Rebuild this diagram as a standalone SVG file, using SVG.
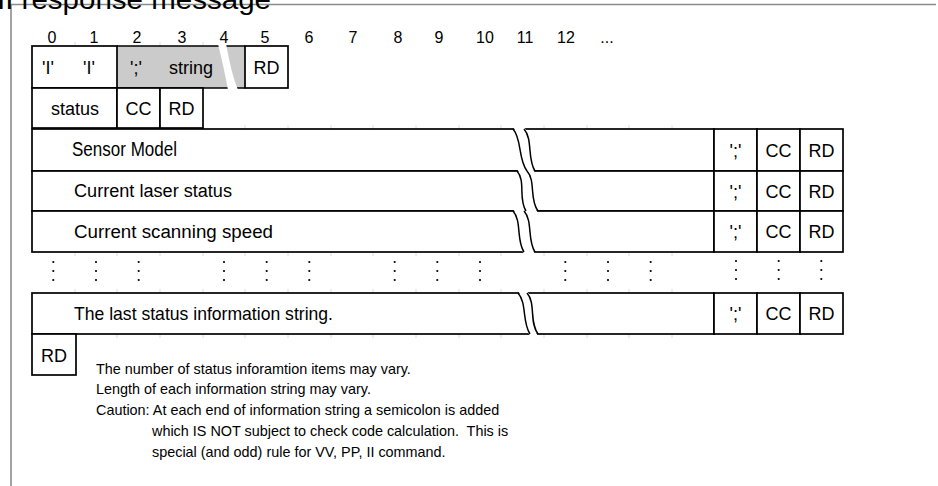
<svg xmlns="http://www.w3.org/2000/svg" width="938" height="486" viewBox="0 0 938 486">
<style>
text{font-family:"Liberation Sans",Arial,sans-serif;fill:#000}
.num{font-size:16px;text-anchor:middle}
.c{font-size:18px;text-anchor:middle}
.lbl{font-size:18px}
.note{font-size:14.4px}
.box{fill:#fff;stroke:#000;stroke-width:1.7}
.ln{stroke:#000;stroke-width:1.7;fill:none}
.tick{stroke:#dcdcdc;stroke-width:1}
.gap{fill:#fff;stroke:none}
.brk{fill:none;stroke:#000;stroke-width:1.5}
.dot{fill:#000}
</style>
<defs>
<g id="vdots"><circle cx="0" cy="0" r="1.1"/><circle cx="0" cy="9" r="1.1"/><circle cx="0" cy="18" r="1.1"/></g>
</defs>
<rect width="938" height="486" fill="#fff"/>
<g id="frame">
<path d="M11 4.5H936M11 4.5V486" stroke="#8c8c8c" stroke-width="1.6" fill="none"/>
<text x="-3" y="9" style="font-size:28px" textLength="274" lengthAdjust="spacingAndGlyphs">II response message</text>
</g>
<g id="colnums">
<text class="num" x="52" y="42.5">0</text><text class="num" x="94" y="42.5">1</text>
<text class="num" x="137" y="42.5">2</text><text class="num" x="182" y="42.5">3</text>
<text class="num" x="224" y="42.5">4</text><text class="num" x="265" y="42.5">5</text>
<text class="num" x="309" y="42.5">6</text><text class="num" x="353" y="42.5">7</text>
<text class="num" x="398" y="42.5">8</text><text class="num" x="439" y="42.5">9</text>
<text class="num" x="485" y="42.5">10</text><text class="num" x="525" y="42.5">11</text>
<text class="num" x="566" y="42.5">12</text><text class="num" x="607" y="42.5">...</text>
</g>
<g id="ticks" class="tick">
<path d="M75 42V50M160 42V50M203 42V50M75 84V92M160 84V92M203 84V92M75 124V132M160 124V132M203 124V132"/>
<path d="M75 125v8M117 125v8M160 125v8M203 125v8M245 125v8M288 125v8M331 125v8M373 125v8M416 125v8M459 125v8M501 125v8M544 125v8M587 125v8M629 125v8M672 125v8"/>
<path d="M75 167v8M117 167v8M160 167v8M203 167v8M245 167v8M288 167v8M331 167v8M373 167v8M416 167v8M459 167v8M501 167v8M544 167v8M587 167v8M629 167v8M672 167v8"/>
<path d="M75 207v8M117 207v8M160 207v8M203 207v8M245 207v8M288 207v8M331 207v8M373 207v8M416 207v8M459 207v8M501 207v8M544 207v8M587 207v8M629 207v8M672 207v8"/>
<path d="M75 248v8M117 248v8M160 248v8M203 248v8M245 248v8M288 248v8M331 248v8M373 248v8M416 248v8M459 248v8M501 248v8M544 248v8M587 248v8M629 248v8M672 248v8"/>
<path d="M75 289v8M117 289v8M160 289v8M203 289v8M245 289v8M288 289v8M331 289v8M373 289v8M416 289v8M459 289v8M501 289v8M544 289v8M587 289v8M629 289v8M672 289v8"/>
<path d="M117 330v8M160 330v8M203 330v8M245 330v8M288 330v8M331 330v8M373 330v8M416 330v8M459 330v8M501 330v8M544 330v8M587 330v8M629 330v8M672 330v8"/>
</g>
<g id="header-row">
<rect x="117" y="46" width="128" height="42" fill="#cbcbcb"/>
<rect class="box" x="32" y="46" width="85" height="42"/>
<rect class="box" x="245" y="46" width="43" height="42"/>
<path class="ln" d="M117 46H245M117 88H245"/>
<path class="gap" d="M218 44H226C229 58 231 72 238 90H228C225 74 222 60 218 44Z"/>
<text class="c" x="48" y="74">'I'</text>
<text class="c" x="89" y="74">'I'</text>
<text class="c" x="136" y="74">';'</text>
<text class="c" x="191" y="74">string</text>
<text class="c" x="266.5" y="74">RD</text>
</g>
<g id="status-row">
<rect class="box" x="32" y="88" width="85" height="40"/>
<rect class="box" x="117" y="88" width="43" height="40"/>
<rect class="box" x="160" y="88" width="43" height="40"/>
<text class="c" x="75" y="115">status</text>
<text class="c" x="138.5" y="115">CC</text>
<text class="c" x="181.5" y="115">RD</text>
</g>
<g id="rows">
<rect class="box" x="32" y="129" width="682" height="42"/>
<rect class="box" x="32" y="171" width="682" height="40"/>
<rect class="box" x="32" y="211" width="682" height="41"/>
<rect class="box" x="32" y="293" width="682" height="41"/>
<path class="gap" d="M513 127H524C533 139 527 159 535 173H527C519 159 522 139 513 127Z"/>
<path class="gap" d="M517 169H527C536 181 529 199 538 213H526C518 199 526 181 517 169Z"/>
<path class="gap" d="M513 209H524C533 221 527 240 535 254H524C516 240 522 221 513 209Z"/>
<path class="gap" d="M518 291H527C536 303 529 322 538 336H530C522 322 527 303 518 291Z"/>
<path class="brk" d="M513 129C522 139 518 159 527 171M524 129C533 139 527 159 535 171"/>
<path class="brk" d="M517 171C526 181 518 199 526 211M527 171C536 181 529 199 538 211"/>
<path class="brk" d="M513 211C522 221 516 240 524 252M524 211C533 221 527 240 535 252"/>
<path class="brk" d="M518 293C527 303 522 322 530 334M527 293C536 303 529 322 538 334"/>
</g>
<g id="row-sensor">
<text class="lbl" x="72" y="155.5" style="font-size:20px" textLength="105" lengthAdjust="spacingAndGlyphs">Sensor Model</text>
<rect class="box" x="714" y="129" width="43" height="42"/><rect class="box" x="757" y="129" width="43" height="42"/><rect class="box" x="800" y="129" width="43" height="42"/>
<text class="c" x="735.5" y="156.5">';'</text><text class="c" x="778.5" y="156.5">CC</text><text class="c" x="821.5" y="156.5">RD</text>
</g>
<g id="row-laser">
<text class="lbl" x="74" y="196.5" textLength="158" lengthAdjust="spacingAndGlyphs">Current laser status</text>
<rect class="box" x="714" y="171" width="43" height="40"/><rect class="box" x="757" y="171" width="43" height="40"/><rect class="box" x="800" y="171" width="43" height="40"/>
<text class="c" x="735.5" y="197.5">';'</text><text class="c" x="778.5" y="197.5">CC</text><text class="c" x="821.5" y="197.5">RD</text>
</g>
<g id="row-speed">
<text class="lbl" x="74" y="237.5" textLength="199" lengthAdjust="spacingAndGlyphs">Current scanning speed</text>
<rect class="box" x="714" y="211" width="43" height="41"/><rect class="box" x="757" y="211" width="43" height="41"/><rect class="box" x="800" y="211" width="43" height="41"/>
<text class="c" x="735.5" y="238">';'</text><text class="c" x="778.5" y="238">CC</text><text class="c" x="821.5" y="238">RD</text>
</g>
<g id="dots" class="dot">
<use href="#vdots" x="53.3" y="262"/><use href="#vdots" x="96" y="262"/><use href="#vdots" x="138.7" y="262"/>
<use href="#vdots" x="224" y="262"/><use href="#vdots" x="266.7" y="262"/><use href="#vdots" x="309.3" y="262"/>
<use href="#vdots" x="394.7" y="262"/><use href="#vdots" x="437.3" y="262"/><use href="#vdots" x="480" y="262"/>
<use href="#vdots" x="565.3" y="262"/><use href="#vdots" x="608" y="262"/><use href="#vdots" x="650.7" y="262"/>
<use href="#vdots" x="736" y="261"/><use href="#vdots" x="778.7" y="261"/><use href="#vdots" x="821.3" y="261"/>
</g>
<g id="row-last">
<text class="lbl" x="74" y="320" style="font-size:19px" textLength="259" lengthAdjust="spacingAndGlyphs">The last status information string.</text>
<rect class="box" x="714" y="293" width="43" height="41"/><rect class="box" x="757" y="293" width="43" height="41"/><rect class="box" x="800" y="293" width="43" height="41"/>
<text class="c" x="735.5" y="320">';'</text><text class="c" x="778.5" y="320">CC</text><text class="c" x="821.5" y="320">RD</text>
</g>
<g id="end-rd">
<rect class="box" x="32" y="334" width="44" height="41"/>
<text class="c" x="54" y="361.5">RD</text>
</g>
<g id="notes">
<text class="note" x="96" y="373.5">The number of status inforamtion items may vary.</text>
<text class="note" x="96" y="394.3">Length of each information string may vary.</text>
<text class="note" x="96" y="415">Caution: At each end of information string a semicolon is added</text>
<text class="note" x="152" y="435.8">which IS NOT subject to check code calculation.&#160; This is</text>
<text class="note" x="152" y="456.6">special (and odd) rule for VV, PP, II command.</text>
</g>
</svg>
